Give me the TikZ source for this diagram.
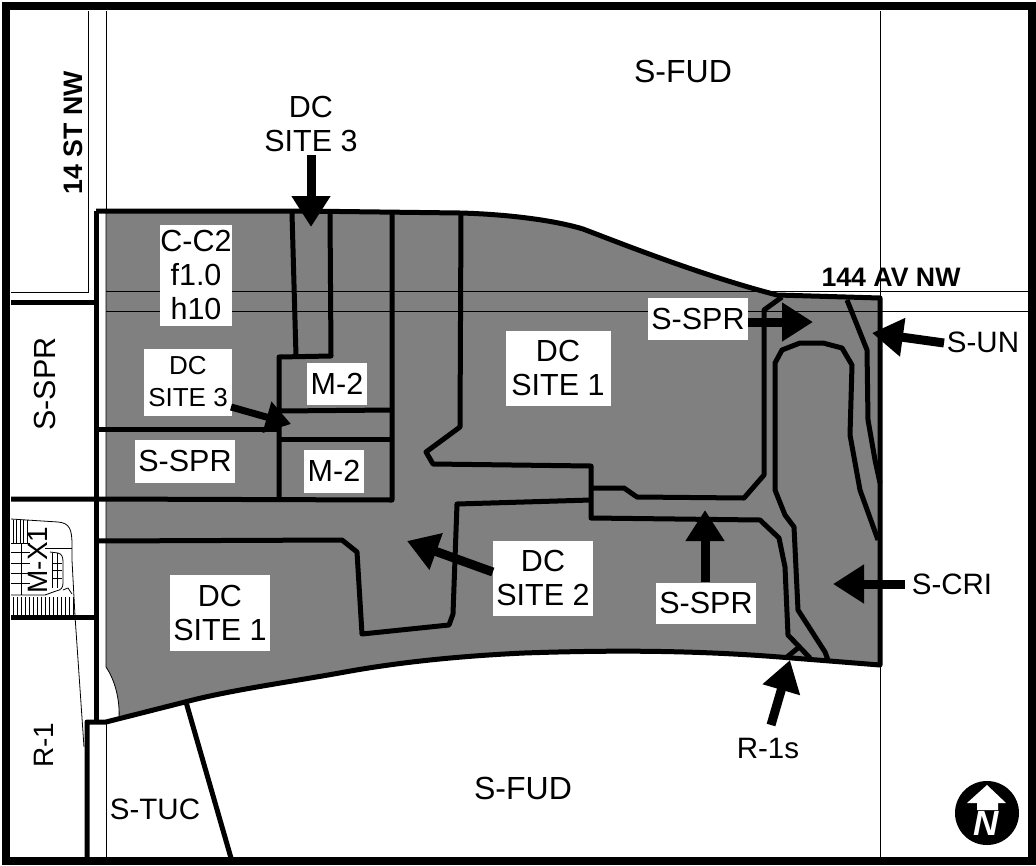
\documentclass[tikz,border=0pt]{standalone}
\usepackage{fontspec}
\setmainfont{Liberation Sans}
\usetikzlibrary{arrows.meta}

\begin{document}
\begin{tikzpicture}[x=1pt,y=-1pt,
    thinline/.style={line width=0.8pt},
    boundary/.style={line width=5pt,line join=round},
    hatchline/.style={line width=0.7pt},
    maptext/.style={font=\fontsize{30.5}{34}\selectfont,align=center,inner sep=0pt},
    widetext/.style={font=\fontsize{32}{34}\selectfont,align=center,inner sep=0pt},
    sidetext/.style={font=\fontsize{29.5}{34}\selectfont,align=center,inner sep=0pt},
    smalltext/.style={font=\fontsize{26}{32}\selectfont,align=center,inner sep=0pt},
    roadtext/.style={font=\fontsize{26.7}{30}\selectfont\bfseries,inner sep=0pt},
    whitebox/.style={fill=white},
    bigarrow/.style={-{Triangle[length=31pt,width=37pt]},line width=9pt},
    smallarrow/.style={-{Triangle[length=25pt,width=31pt]},line width=7pt}]
        \useasboundingbox (0,0) rectangle (1036,865);
        \fill[white] (0,0) rectangle (1036,865);

        % rezoned area
        \fill[gray] (106,212) -- (300,212) -- (460,214)
            .. controls (500,215) and (550,220) .. (583,230)
            .. controls (620,244) and (700,276) .. (777,296) -- (880,298) -- (880,665)
            -- (792,658) .. controls (720,652) and (640,649) .. (524,653)
            .. controls (460,656) and (400,662) .. (345,672)
            .. controls (290,682) and (230,690) .. (185,702) -- (119,718)
            .. controls (120,700) and (115,680) .. (106,667) -- cycle;
        \draw[thinline] (106,212) -- (106,667) .. controls (115,680) and (120,700) .. (119,718);

        % streets
        \draw[thinline] (88,11) -- (88,292) -- (11,292);
        \draw[thinline] (106,11) -- (106,212);
        \draw[thinline] (106,722) -- (106,858);
        \draw[thinline] (106,291) -- (1030,291);
        \draw[thinline] (106,311) -- (1030,311);
        \draw[thinline] (880,11) -- (880,298);
        \draw[thinline] (880,665) -- (880,858);

        % M-X1 lots
        \foreach \hx in {13,17,...,73} {
            \draw[hatchline] (\hx,597) -- (\hx,616);
        }
        \foreach \hx in {13,16.5,...,27} {
            \draw[hatchline] (\hx,520) -- (\hx,543);
        }
        \foreach \hy in {552,563,573,583} {
            \draw[hatchline] (11,\hy) -- (30,\hy);
        }
        \foreach \hy in {563,570,578} {
            \draw[hatchline] (52,\hy) -- (62,\hy);
        }
        \draw[hatchline] (21,543) -- (21,595);
        \draw[hatchline] (52,553) -- (52,588);
        \draw[hatchline] (57,553) -- (57,588);
        \draw[thinline] (11,519) -- (58,522) .. controls (70,523) and (72,530) .. (72,545)
            -- (72,560) -- (75,616) -- (84,747);
        \draw[thinline] (11,543) -- (30,543);
        \draw[thinline] (45,548) -- (72,548);
        \draw[thinline] (50,552) -- (58,553) .. controls (62,554) and (63,557) .. (63,562)
            -- (63,583) .. controls (63,588) and (61,590) .. (56,591) -- (45,595) -- (11,595);
        \draw[thinline] (63,590) -- (68,588) -- (72,594);

        % zoning boundaries
        \draw[boundary] (96,211) -- (300,211) -- (460,213)
            .. controls (500,214) and (550,219) .. (583,229)
            .. controls (620,243) and (700,275) .. (777,295) -- (880,298) -- (880,665)
            -- (792,658) .. controls (720,652) and (640,649) .. (524,653)
            .. controls (460,656) and (400,662) .. (345,672)
            .. controls (290,682) and (230,690) .. (185,702)
            -- (106,722) -- (87,722) -- (87,858);
        \draw[boundary] (96,211) -- (96,722);
        \draw[boundary] (11,302) -- (96,302);
        \draw[boundary] (11,499) -- (96,499) -- (392,500) -- (392,211);
        \draw[boundary] (11,617) -- (96,617);
        \draw[boundary] (96,429) -- (279,429);
        \draw[boundary] (292,213) -- (296,356);
        \draw[boundary] (330,213) -- (331,356) -- (279,357) -- (279,500);
        \draw[boundary] (279,411) -- (392,410);
        \draw[boundary] (279,439) -- (392,439);
        \draw[boundary] (96,541) -- (342,540) -- (357,552) -- (362,634) -- (449,625) -- (453,614)
            -- (457,504) -- (591,500);
        \draw[boundary] (461,213) -- (460,427) -- (426,452) -- (433,464) -- (591,466) -- (591,518)
            -- (760,520) -- (779,538) -- (785,567) -- (788,635) -- (810,658);
        \draw[boundary] (798,648) -- (787,657);
        \draw[boundary] (591,488) -- (624,488) -- (637,497) -- (744,498) -- (764,475)
            -- (764,310) -- (782,297);
        \draw[boundary] (828,660) -- (825,652) -- (798,610) -- (794,527) -- (785,515) -- (775,490)
            -- (775,363) -- (782,350) -- (800,343) -- (823,343) -- (842,348) -- (852,365)
            -- (850,435) -- (860,490) -- (878,540);
        \draw[boundary] (847,300) -- (867,350) -- (868,420) -- (875,460) -- (880,483);
        \draw[boundary] (231,858) -- (186,702);

        % frame
        \draw[line width=8pt] (6,6) rectangle (1032,861);

        % labels in boxes
        \node[maptext,whitebox,minimum width=72pt,minimum height=101pt] (lblCC)
            at (196,275) {C-C2\\f1.0\\h10};
        \node[smalltext,whitebox,minimum width=88pt,minimum height=67pt] (lblSiteThreeIn)
            at (188,382) {DC\\SITE 3};
        \node[maptext,whitebox,minimum width=60pt,minimum height=42pt] (lblMtwoTop)
            at (337,384) {M-2};
        \node[maptext,whitebox,minimum width=60pt,minimum height=43pt] (lblMtwoBot)
            at (334,471) {M-2};
        \node[maptext,whitebox,minimum width=100pt,minimum height=43pt] (lblSprWest)
            at (185,461) {S-SPR};
        \node[maptext,whitebox,minimum width=105pt,minimum height=75pt] (lblSiteOneNorth)
            at (558,368) {DC\\SITE 1};
        \node[maptext,whitebox,minimum width=100pt,minimum height=76pt] (lblSiteOneSouth)
            at (220,613) {DC\\SITE 1};
        \node[maptext,whitebox,minimum width=100pt,minimum height=75pt] (lblSiteTwo)
            at (543,578) {DC\\SITE 2};
        \node[maptext,whitebox,minimum width=100pt,minimum height=41pt] (lblSprSouth)
            at (706,603) {S-SPR};
        \node[maptext,whitebox,minimum width=100pt,minimum height=42pt] (lblSprNorth)
            at (698,319) {S-SPR};

        % labels on white
        \node[widetext] (lblFudNorth) at (683,71) {S-FUD};
        \node[widetext] (lblFudSouth) at (523,788) {S-FUD};
        \node[maptext] (lblSiteThreeTop) at (311,124) {DC\\SITE 3};
        \node[maptext,rotate=90] (lblSprSide) at (45,384) {S-SPR};
        \node[sidetext,font=\fontsize{28}{34}\selectfont,rotate=90] (lblMx) at (38,560) {M-X1};
        \node[sidetext,font=\fontsize{28}{34}\selectfont,rotate=90] (lblRone) at (44,745) {R-1};
        \node[sidetext] (lblTuc) at (155,809) {S-TUC};
        \node[sidetext] (lblRones) at (768,748) {R-1s};
        \node[sidetext] (lblCri) at (952,584) {S-CRI};
        \node[sidetext] (lblUn) at (983,342) {S-UN};
        \node[roadtext,rotate=90] (lblStreet) at (73,133) {14 ST NW};
        \node[roadtext] (lblAvenue) at (891,277) {144 AV NW};

        % arrows
        \coordinate (tipSiteThreeTop) at (311,227);
        \coordinate (tipSiteThreeIn) at (291,424);
        \coordinate (tipSprNorth) at (813,322);
        \coordinate (tipUn) at (872,333);
        \coordinate (tipCri) at (833,584);
        \coordinate (tipSprSouth) at (705,510);
        \coordinate (tipSiteTwo) at (407,541);
        \coordinate (tipRones) at (790,660);
        \coordinate (tailSiteThreeTop) at (311,155);
        \coordinate (tailSiteThreeIn) at (231,407);
        \coordinate (tailUn) at (944,343);
        \coordinate (tailCri) at (905,584);
        \coordinate (tailRones) at (771,725);

        \draw[bigarrow] (tailSiteThreeTop) -- (tipSiteThreeTop);
        \draw[smallarrow] (tailSiteThreeIn) -- (tipSiteThreeIn);
        \draw[bigarrow] (lblSprNorth.east |- tipSprNorth) -- (tipSprNorth);
        \draw[bigarrow] (tailUn) -- (tipUn);
        \draw[bigarrow] (tailCri) -- (tipCri);
        \draw[bigarrow] (lblSprSouth.north -| tipSprSouth) -- (tipSprSouth);
        \draw[bigarrow] (lblSiteTwo.west |- 0,572) -- (tipSiteTwo);
        \draw[bigarrow] (tailRones) -- (tipRones);

        % north sign
        \node[circle,fill=black,minimum size=64pt,inner sep=0pt] (northDisc) at (987,813) {};
        \fill[white] (987,785) -- (1006,803) -- (998,803) -- (998,810) -- (977,810) -- (977,803)
            -- (967,803) -- cycle;
        \node[font=\fontsize{35}{35}\selectfont\bfseries\itshape,text=white,inner sep=0pt]
            (northLetter) at (986,823) {N};
    \end{tikzpicture}
\end{document}
